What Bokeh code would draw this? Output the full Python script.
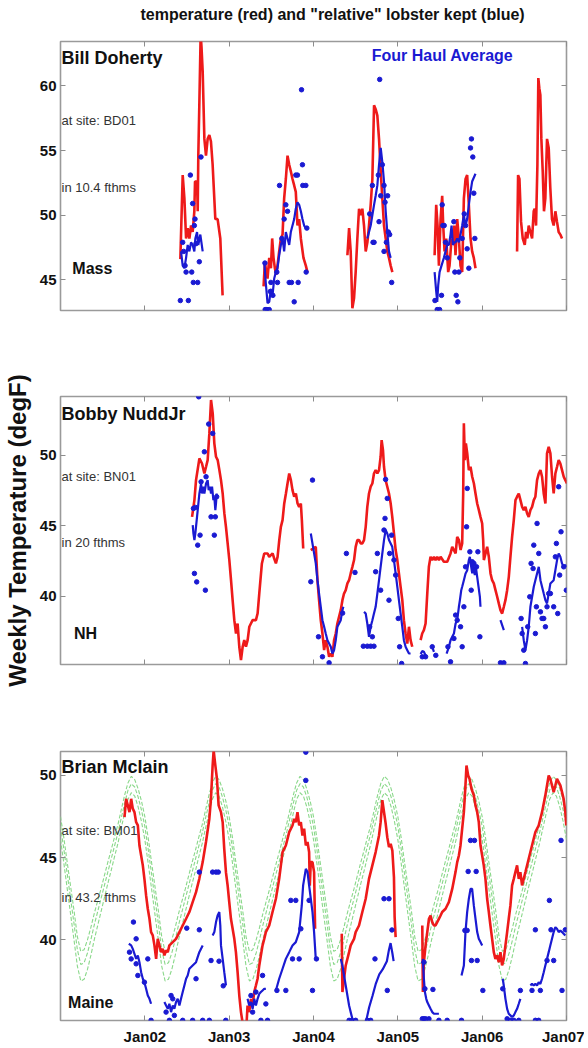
from bokeh.plotting import figure
from bokeh.layouts import column
from bokeh.models import Range1d, LinearAxis, FixedTicker, Label
from bokeh.core.properties import value
from bokeh.embed import file_html
from bokeh.resources import INLINE

NA = float("nan")

TITLE = 'temperature (red) and "relative" lobster kept (blue)'
YLABEL = "Weekly Temperature (degF)"
YEAR_TICKS = [2002, 2003, 2004, 2005, 2006, 2007]
YEAR_LABELS = ["Jan02", "Jan03", "Jan04", "Jan05", "Jan06", "Jan07"]

# ---------------- Panel 1 : Bill Doherty, BD01, Mass ----------------
bd_temp_t = [2002.421, 2002.449, 2002.469, 2002.489, 2002.508, 2002.528, 2002.548, 2002.567, 2002.587, 2002.595,
             2002.619, 2002.627, 2002.634, 2002.646, 2002.662, 2002.672, 2002.686, 2002.706, 2002.725, 2002.745,
             2002.765, 2002.784, 2002.804, 2002.836, 2002.863, 2002.895, 2002.922, NA,
             2003.408, 2003.424, 2003.439, 2003.455, 2003.475, 2003.495, 2003.510, 2003.526, 2003.542, 2003.558,
             2003.573, 2003.593, 2003.613, 2003.633, 2003.652, 2003.672, 2003.692, 2003.712, 2003.731, 2003.751,
             2003.771, 2003.790, 2003.802, 2003.810, 2003.830, 2003.850, 2003.881, 2003.909, 2003.928, NA,
             2004.402, 2004.422, 2004.441, 2004.461, 2004.481, 2004.500, 2004.520, 2004.540, 2004.560, 2004.579,
             2004.599, 2004.619, 2004.639, 2004.658, 2004.678, 2004.698, 2004.718, 2004.737, 2004.757, 2004.777,
             2004.797, 2004.816, 2004.836, 2004.856, 2004.875, 2004.895, 2004.915, 2004.935, NA,
             2005.436, 2005.455, 2005.471, 2005.487, 2005.507, 2005.526, 2005.538, 2005.554, 2005.574, 2005.597,
             2005.613, 2005.637, 2005.653, 2005.668, 2005.684, 2005.704, 2005.724, 2005.743, 2005.763, 2005.783,
             2005.803, 2005.822, 2005.842, 2005.862, 2005.881, 2005.901, 2005.921, NA,
             2006.414, 2006.426, 2006.442, 2006.461, 2006.481, 2006.505, 2006.520, 2006.536, 2006.552, 2006.572,
             2006.592, 2006.611, 2006.623, 2006.639, 2006.655, 2006.666, 2006.678, 2006.690, 2006.702, 2006.718,
             2006.733, 2006.749, 2006.769, 2006.789, 2006.808, 2006.828, 2006.848, 2006.868, 2006.887, 2006.907,
             2006.927, 2006.947]
bd_temp_v = [46.6, 53.1, 51.3, 48.2, 49.0, 48.2, 49.2, 48.7, 50.3, 52.6,
             52.6, 50.3, 54.6, 58.5, 64.0, 63.0, 61.1, 55.9, 54.6, 55.9,
             56.2, 55.7, 53.9, 49.7, 49.7, 48.2, 43.8, NA,
             44.5, 46.4, 45.6, 45.1, 46.7, 45.9, 48.2, 46.7, 45.9, 45.4,
             46.1, 47.2, 48.2, 48.5, 51.3, 52.8, 54.6, 53.9, 53.4, 52.8,
             52.3, 51.8, 50.3, 49.2, 49.7, 48.2, 46.7, 46.1, 45.6, NA,
             46.9, 49.0, 47.2, 42.8, 43.6, 45.6, 48.2, 50.5, 50.0, 50.5,
             49.2, 47.2, 47.9, 49.2, 50.8, 52.8, 58.5, 58.2, 57.7, 55.9,
             53.4, 51.3, 49.2, 48.2, 47.2, 46.7, 46.1, 45.6, NA,
             46.9, 50.8, 49.2, 46.1, 49.7, 51.5, 49.2, 47.2, 48.2, 45.6,
             46.1, 48.2, 47.9, 49.2, 46.9, 49.7, 48.2, 46.1, 45.6, 51.3,
             52.8, 53.1, 50.8, 48.2, 47.2, 46.7, 45.9, NA,
             47.2, 53.1, 52.8, 49.5, 48.2, 47.7, 48.7, 48.2, 49.2, 48.7,
             48.2, 50.3, 50.5, 49.2, 53.9, 60.6, 59.8, 59.3, 55.9, 53.4,
             50.3, 51.3, 55.9, 55.2, 52.1, 49.7, 49.2, 50.3, 49.5, 48.7,
             48.5, 48.2]

bd_avg_t = [2002.429, 2002.449, 2002.469, 2002.489, 2002.508, 2002.528, 2002.548, 2002.567, 2002.587, 2002.599,
            2002.619, 2002.634, 2002.658, 2002.686, NA,
            2003.416, 2003.435, 2003.455, 2003.475, 2003.495, 2003.514, 2003.534, 2003.554, 2003.573, 2003.593,
            2003.613, 2003.633, 2003.652, 2003.672, 2003.692, 2003.712, 2003.731, 2003.751, 2003.771, 2003.790,
            2003.810, 2003.830, 2003.850, 2003.869, 2003.889, 2003.909, NA,
            2004.638, 2004.658, 2004.678, 2004.698, 2004.718, 2004.737, 2004.757, 2004.777, 2004.797, 2004.816,
            2004.836, 2004.856, 2004.875, 2004.895, 2004.915, NA,
            2005.436, 2005.455, 2005.467, 2005.479, 2005.495, 2005.518, 2005.546, 2005.566, 2005.586, 2005.605,
            2005.625, 2005.637, 2005.653, 2005.668, 2005.684, 2005.704, 2005.724, 2005.743, 2005.763, 2005.783,
            2005.803, 2005.822, 2005.842, 2005.862, 2005.881, 2005.921]
bd_avg_v = [47.2, 46.1, 45.9, 46.7, 47.7, 47.2, 47.9, 47.7, 47.2, 48.2,
            48.7, 47.7, 48.5, 47.2, NA,
            46.4, 44.7, 43.2, 43.3, 44.3, 43.8, 45.1, 45.6, 45.9, 46.9,
            47.7, 48.2, 47.2, 48.7, 48.2, 47.7, 48.7, 49.2, 49.7, 50.5,
            51.0, 50.8, 50.3, 49.7, 49.2, 49.0, NA,
            48.2, 48.7, 49.2, 50.0, 50.8, 51.5, 52.3, 53.9, 55.2, 54.1,
            52.6, 50.3, 48.7, 47.2, 46.7, NA,
            45.6, 44.1, 43.3, 44.6, 45.6, 46.1, 46.7, 47.2, 47.7, 47.7,
            48.5, 49.2, 47.7, 47.9, 47.9, 48.2, 47.9, 48.5, 49.2, 50.0,
            49.2, 49.7, 50.8, 51.8, 52.6, 53.2]

bd_haul_t = [2002.421, 2002.516, 2002.449, 2002.461, 2002.477, 2002.489, 2002.540, 2002.556, 2002.567, 2002.575,
             2002.587, 2002.595, 2002.607, 2002.627, 2002.646, 2002.666,
             2003.424, 2003.427, 2003.447, 2003.475, 2003.487, 2003.495, 2003.518, 2003.565, 2003.573, 2003.597,
             2003.625, 2003.652, 2003.672, 2003.692, 2003.712, 2003.739, 2003.771, 2003.790, 2003.810, 2003.818,
             2003.858, 2003.869, 2003.873, 2003.909, 2003.913, 2003.921,
             2004.666, 2004.698, 2004.706, 2004.718, 2004.769, 2004.777, 2004.785, 2004.797, 2004.816, 2004.836,
             2004.836, 2004.848, 2004.864, 2004.879, 2004.887, 2004.903, 2004.927,
             2005.440, 2005.467, 2005.495, 2005.518, 2005.526, 2005.534, 2005.550, 2005.566, 2005.586, 2005.664,
             2005.676, 2005.692, 2005.712, 2005.724, 2005.735, 2005.763, 2005.787, 2005.803, 2005.822, 2005.842,
             2005.862, 2005.873, 2005.889, 2005.901, 2005.913]
bd_haul_v = [43.4, 43.4, 47.9, 47.2, 46.1, 45.6, 53.1, 45.6, 50.9, 44.8,
             49.2, 49.7, 47.8, 44.8, 46.4, 54.5,
             46.3, 42.7, 42.7, 42.7, 44.1, 44.8, 43.8, 45.6, 44.8, 52.3,
             48.2, 49.7, 50.8, 50.3, 44.8, 44.8, 43.3, 53.1, 53.1, 44.8,
             59.7, 53.9, 52.3, 52.3, 45.6, 49.0,
             50.1, 52.3, 47.9, 47.9, 53.1, 49.5, 60.5, 51.5, 53.9, 52.3,
             47.2, 51.0, 47.9, 51.5, 48.7, 48.5, 44.8,
             43.4, 42.7, 42.7, 43.8, 50.8, 49.2, 49.2, 47.9, 46.7, 49.5,
             45.6, 43.8, 43.3, 45.6, 46.7, 48.2, 50.1, 49.2, 47.4, 45.9,
             55.2, 55.9, 54.5, 51.7, 48.2]

# ---------------- Panel 2 : Bobby NuddJr, BN01, NH ----------------
bn_temp_t = [2002.560, 2002.588, 2002.607, 2002.647, 2002.678, 2002.706, 2002.726, 2002.745, 2002.765, 2002.785,
             2002.805, 2002.824, 2002.844, 2002.864, 2002.884, 2002.903, 2002.923, 2002.943, 2002.962, 2002.982,
             2003.002, 2003.022, 2003.041, 2003.061, 2003.081, 2003.100, 2003.120, 2003.140, 2003.160, 2003.179,
             2003.199, 2003.219, 2003.239, 2003.258, 2003.278, 2003.317, 2003.337, 2003.357, 2003.388, 2003.416,
             2003.456, 2003.475, 2003.515, 2003.534, 2003.554, 2003.574, 2003.594, 2003.613, 2003.633, 2003.653,
             2003.673, 2003.692, 2003.712, 2003.732, 2003.751, 2003.771, 2003.791, 2003.811, 2003.830, 2003.850,
             2003.862, 2003.878, NA,
             2003.968, 2004.027, 2004.047, 2004.066, 2004.086, 2004.106, 2004.126, 2004.145, 2004.165, 2004.185,
             2004.205, 2004.224, 2004.244, 2004.264, 2004.283, 2004.303, 2004.323, 2004.343, 2004.362, 2004.382,
             2004.402, 2004.422, 2004.441, 2004.461, 2004.481, 2004.500, 2004.520, 2004.540, 2004.560, 2004.579,
             2004.599, 2004.619, 2004.638, 2004.658, 2004.678, 2004.698, 2004.717, 2004.737, 2004.757, 2004.777,
             2004.796, 2004.808, 2004.824, 2004.836, 2004.855, 2004.875, 2004.895, 2004.915, 2004.934, 2004.954,
             2004.974, 2004.994, 2005.013, 2005.033, 2005.053, 2005.072, 2005.092, 2005.112, 2005.132, 2005.151,
             2005.171, NA,
             2005.270, 2005.289, 2005.309, 2005.329, 2005.349, 2005.368, 2005.388, 2005.408, 2005.428, 2005.447,
             2005.467, 2005.487, 2005.507, 2005.546, 2005.586, 2005.625, 2005.645, 2005.665, 2005.685, 2005.704,
             2005.724, 2005.744, 2005.763, 2005.775, 2005.783, 2005.795, 2005.807, 2005.823, 2005.842, 2005.862,
             2005.882, 2005.902, 2005.921, 2005.941, 2005.961, 2005.980, 2006.000, 2006.012, 2006.020, 2006.040,
             2006.059, 2006.079, 2006.099, 2006.118, 2006.138, 2006.158, 2006.178, 2006.197, 2006.217, 2006.237,
             2006.257, 2006.276, 2006.296, 2006.316, 2006.335, 2006.355, 2006.375, 2006.395, 2006.414, 2006.434,
             2006.454, 2006.474, 2006.493, 2006.513, 2006.533, 2006.552, 2006.572, 2006.592, 2006.612, 2006.631,
             2006.651, 2006.671, 2006.691, 2006.710, 2006.730, 2006.750, 2006.769, 2006.789, 2006.809, 2006.829,
             2006.848, 2006.868, 2006.888, 2006.907, 2006.927, 2006.947, 2006.967, 2006.986, 2007.006]
bn_temp_v = [45.64, 46.83, 48.25, 49.79, 49.43, 48.72, 49.2, 49.67, 51.57, 53.94,
             52.99, 50.86, 49.91, 49.67, 48.96, 48.25, 47.3, 45.88, 44.93, 43.75,
             42.57, 41.14, 39.72, 38.3, 37.35, 38.06, 36.41, 35.46, 36.41, 36.88,
             36.41, 36.88, 37.83, 38.06, 38.3, 38.3, 38.77, 40.19, 42.33, 43.04,
             43.04, 42.8, 43.04, 42.68, 42.33, 42.8, 43.99, 44.93, 45.41, 46.59,
             47.3, 48.01, 48.72, 48.25, 47.54, 47.07, 47.3, 46.59, 46.35, 46.59,
             45.41, 43.39, NA,
             43.28, 43.51, 41.14, 39.72, 38.3, 37.35, 36.17, 36.88, 36.41, 35.7,
             35.93, 35.7, 36.88, 37.35, 38.06, 38.54, 39.01, 39.72, 40.19, 40.43,
             40.91, 41.14, 41.62, 42.09, 42.57, 43.51, 43.99, 43.99, 43.75, 43.75,
             43.99, 44.93, 46.35, 47.3, 47.78, 48.01, 48.72, 48.96, 48.72, 48.96,
             49.91, 51.09, 50.38, 49.2, 48.25, 47.78, 47.3, 46.59, 45.64, 44.46,
             43.28, 42.57, 41.62, 40.67, 39.72, 38.3, 37.35, 36.64, 37.83, 36.88,
             36.41, NA,
             36.88, 37.35, 37.59, 38.06, 40.19, 42.09, 42.8, 42.57, 42.8, 42.57,
             42.8, 42.57, 42.8, 42.45, 42.45, 43.04, 43.51, 43.28, 43.04, 44.22,
             43.99, 43.28, 43.75, 47.3, 52.28, 49.67, 50.86, 50.15, 48.96, 49.2,
             48.49, 48.01, 47.3, 46.59, 46.12, 45.64, 45.17, 43.99, 42.57, 43.04,
             43.51, 42.8, 41.62, 41.14, 40.91, 40.43, 39.96, 39.49, 39.01, 38.77,
             39.25, 39.72, 40.43, 41.38, 42.8, 44.22, 45.41, 46.83, 47.07, 47.3,
             46.83, 46.35, 46.12, 46.35, 45.88, 45.64, 46.12, 46.35, 46.83, 47.07,
             48.25, 48.72, 48.96, 48.49, 47.3, 46.59, 50.15, 50.62, 50.15, 48.49,
             47.3, 48.72, 49.2, 49.67, 49.43, 48.96, 48.49, 48.25, 48.01]

bn_avg_t = [2002.568, 2002.576, 2002.588, 2002.599, 2002.615, 2002.627, 2002.647, 2002.667, 2002.678, 2002.694,
            2002.706, 2002.726, 2002.745, 2002.757, 2002.773, 2002.785, 2002.797, 2002.813, 2002.824, 2002.836,
            2002.844, 2002.852, NA,
            2003.968, 2004.027, 2004.047, 2004.066, 2004.086, 2004.106, 2004.126, 2004.145, 2004.165, 2004.185,
            2004.205, 2004.224, 2004.244, 2004.264, 2004.283, 2004.303, 2004.323, 2004.343, 2004.354, NA,
            2004.599, 2004.619, 2004.638, 2004.658, 2004.678, 2004.698, 2004.717, 2004.737, 2004.757, 2004.777,
            2004.796, 2004.816, 2004.836, 2004.855, 2004.875, 2004.895, 2004.915, 2004.934, 2004.954, 2004.974,
            2004.994, 2005.013, 2005.033, 2005.053, 2005.072, 2005.092, 2005.112, 2005.132, 2005.151, NA,
            2005.270, 2005.290, 2005.309, 2005.329, NA, 2005.408, 2005.428, NA,
            2005.578, 2005.606, 2005.625, 2005.645, 2005.665, 2005.685, 2005.704, 2005.724, 2005.736, 2005.752,
            2005.763, 2005.783, 2005.803, 2005.823, 2005.842, 2005.854, 2005.870, 2005.882, 2005.894, 2005.902,
            2005.913, 2005.925, 2005.941, 2005.957, 2005.973, 2005.980, NA,
            2006.217, 2006.257, NA,
            2006.474, 2006.493, 2006.513, 2006.533, 2006.552, 2006.572, 2006.592, 2006.612, 2006.631, 2006.651,
            2006.671, 2006.691, 2006.710, 2006.730, 2006.750, 2006.769, 2006.789, 2006.809, 2006.848, 2006.868,
            2006.888, 2006.907, 2006.927, 2006.947, 2006.967, 2006.986, 2007.006]
bn_avg_v = [45.05, 44.46, 43.99, 44.46, 45.41, 46.12, 47.3, 48.01, 47.3, 47.78,
            47.3, 48.01, 48.25, 47.54, 47.78, 47.3, 47.78, 46.83, 47.07, 46.12,
            46.59, 47.3, NA,
            44.46, 42.33, 41.14, 40.19, 39.25, 38.3, 37.83, 37.35, 36.88, 36.64,
            36.41, 35.93, 36.17, 36.88, 37.83, 38.06, 38.3, 39.01, 39.25, NA,
            38.89, 38.77, 38.06, 37.12, 37.83, 38.3, 38.77, 39.25, 40.19, 41.14,
            42.09, 43.04, 43.99, 44.7, 44.46, 43.99, 43.75, 43.51, 42.57, 41.62,
            40.67, 39.72, 38.77, 37.83, 36.88, 36.41, 36.17, 35.93, 35.93, NA,
            35.9, 36.1, 36.05, 35.8, NA, 36.4, 36.05, NA,
            35.93, 36.41, 36.88, 37.12, 37.35, 38.06, 38.3, 39.25, 39.72, 40.43,
            40.67, 41.14, 41.62, 41.85, 42.57, 42.8, 42.09, 41.62, 42.33, 41.85,
            41.5, 42.09, 41.38, 40.67, 39.96, 39.25, NA,
            38.3, 37.59, NA,
            37.83, 36.88, 36.17, 36.88, 37.83, 39.25, 39.96, 40.67, 41.14, 41.62,
            42.09, 41.14, 40.67, 40.19, 39.72, 39.49, 40.19, 40.91, 41.14, 41.85,
            42.57, 43.04, 42.8, 42.33, 42.09, 42.21, 42.09]

bn_haul_t = [2002.639, 2002.576, 2002.599, 2002.588, 2002.615, 2002.627, 2002.655, 2002.718, 2002.706, 2002.757,
             2002.805, 2002.785, 2002.824, 2002.852, 2002.836, 2002.667, 2002.726,
             2003.988, 2003.968, 2004.059, 2004.106, 2004.185, 2004.345, 2004.390, 2004.492,
             2004.591, 2004.638, 2004.678, 2004.717, 2004.698, 2004.666, 2004.737, 2004.757, 2004.796, 2004.836,
             2004.848, 2004.855, 2004.875, 2004.895, 2004.903, 2004.926, 2004.954, 2004.974, 2005.005, 2005.021,
             2005.045,
             2005.290, 2005.329, 2005.408, 2005.450,
             2005.594, 2005.625, 2005.665, 2005.685, 2005.704, 2005.744, 2005.763, 2005.783, 2005.803, 2005.815,
             2005.823, 2005.854, 2005.870, 2005.882, 2005.902, 2005.933, 2005.949, 2005.973,
             2006.217, 2006.257,
             2006.462, 2006.474, 2006.493, 2006.513, 2006.540, 2006.564, 2006.580, 2006.604, 2006.612, 2006.631,
             2006.643, 2006.651, 2006.671, 2006.691, 2006.710, 2006.730, 2006.750, 2006.769, 2006.789, 2006.809,
             2006.848, 2006.868, 2006.880, 2006.896, 2006.907, 2006.919, 2006.935, 2006.967, 2006.998]
bn_haul_v = [54.17, 46.24, 46.31, 41.62, 41.02, 43.63, 44.34, 40.43, 50.26, 52.23,
             51.57, 45.64, 44.34, 47.07, 45.64, 48.13, 48.49,
             48.25, 41.03, 37.12, 35.7, 35.27, 38.8, 43.04, 41.69,
             36.45, 36.45, 36.45, 36.45, 37.12, 37.83, 41.74, 43.04, 40.43, 44.7,
             45.53, 48.3, 46.95, 39.72, 43.04, 44.34, 42.57, 41.5, 38.42, 36.41,
             35.22,
             35.7, 35.7, 36.41, 35.8,
             36.41, 35.34, 37.0, 38.66, 38.3, 37.83, 36.41, 39.25, 42.09, 44.93,
             47.66, 43.16, 40.43, 42.45, 42.33, 42.09, 43.16, 37.12,
             35.27, 35.27,
             38.42, 37.35, 36.17, 35.22, 37.83, 39.96, 42.33, 41.97, 43.63, 37.35,
             39.25, 45.17, 43.04, 38.89, 38.42, 38.42, 37.83, 39.25, 40.19, 40.19,
             39.25, 42.8, 43.75, 38.77, 47.78, 41.5, 44.58, 42.09, 40.43]

# ---------------- Panel 3 : Brian Mclain, BM01, Maine ----------------
bm_temp_t = [2001.759, 2001.778, 2001.798, 2001.818, 2001.838, 2001.857, 2001.877, 2001.897, 2001.917, 2001.936,
             2001.956, 2001.976, 2001.995, 2002.015, 2002.035, 2002.055, 2002.074, 2002.094, 2002.114, 2002.134,
             2002.153, 2002.173, 2002.193, 2002.212, 2002.232, 2002.252, 2002.272, 2002.291, 2002.331, 2002.370,
             2002.410, 2002.449, 2002.489, 2002.528, 2002.567, 2002.607, 2002.646, 2002.686, 2002.725, 2002.765,
             2002.784, 2002.804, 2002.816, 2002.836, 2002.855, 2002.875, 2002.903, 2002.923, 2002.942, 2002.962,
             2002.982, 2003.001, 2003.021, 2003.041, 2003.061, 2003.080, 2003.100, 2003.120, 2003.140, 2003.170,
             2003.207, 2003.218, 2003.238, 2003.258, 2003.278, 2003.297, 2003.317, 2003.337, 2003.357, 2003.376,
             2003.396, 2003.416, 2003.435, 2003.475, 2003.514, 2003.554, 2003.593, 2003.633, 2003.672, 2003.712,
             2003.751, 2003.771, 2003.790, 2003.810, 2003.830, 2003.850, 2003.869, 2003.889, 2003.909, 2003.929,
             2003.948, 2003.956, 2003.968, 2003.988, 2004.007, 2004.019, NA,
             2004.335, 2004.343, 2004.362, 2004.382, 2004.402, 2004.422, 2004.441, 2004.461, 2004.481, 2004.500,
             2004.540, 2004.579, 2004.619, 2004.658, 2004.698, 2004.737, 2004.777, 2004.796, 2004.816, 2004.856,
             2004.875, 2004.895, 2004.915, 2004.935, 2004.954, 2004.962, 2004.974, NA,
             2005.290, 2005.297, 2005.309, 2005.329, 2005.349, 2005.369, 2005.388, 2005.408, 2005.428, 2005.447,
             2005.467, 2005.487, 2005.507, 2005.526, 2005.566, 2005.605, 2005.645, 2005.684, 2005.704, 2005.724,
             2005.743, 2005.763, 2005.783, 2005.802, 2005.814, 2005.834, 2005.850, 2005.873, 2005.901, 2005.921,
             2005.941, 2005.960, 2005.980, 2006.000, 2006.019, 2006.039, 2006.059, 2006.079, 2006.098, 2006.118,
             2006.138, 2006.157, 2006.177, 2006.197, 2006.217, 2006.236, 2006.256, 2006.276, 2006.296, 2006.315,
             2006.335, 2006.355, 2006.375, 2006.394, 2006.414, 2006.434, 2006.453, 2006.473, 2006.493, 2006.513,
             2006.552, 2006.591, 2006.631, 2006.670, 2006.710, 2006.749, 2006.789, 2006.808, 2006.828, 2006.848,
             2006.868, 2006.887, 2006.907, 2006.927, 2006.947, 2006.966, 2006.986, 2006.998]
bm_temp_v = [47.47, 48.58, 48.18, 47.77, 48.58, 47.98, 47.77, 47.16, 46.96, 45.74,
             45.13, 44.53, 43.71, 42.7, 41.89, 41.28, 40.47, 40.27, 39.66, 38.84,
             40.06, 39.66, 39.25, 39.45, 39.05, 39.35, 39.25, 39.66, 39.86, 40.06,
             40.47, 40.87, 41.28, 41.69, 42.29, 42.9, 43.71, 44.73, 45.95, 47.37,
             48.58, 50.61, 51.53, 50.61, 49.8, 48.18, 47.77, 47.16, 45.5, 44.1,
             43.3, 42.29, 41.28, 40.67, 40.06, 39.25, 38.03, 36.61, 35.6, 34.6,
             34.99, 36.0, 35.6, 36.41, 36.0, 36.82, 37.22, 37.63, 38.44, 39.05,
             39.66, 40.06, 40.47, 40.87, 41.69, 42.5, 43.71, 45.34, 45.74, 46.55,
             46.96, 47.37, 47.16, 47.77, 46.96, 47.16, 46.35, 46.76, 45.74, 45.95,
             45.34, 43.3, 44.73, 44.73, 44.12, 40.67, NA,
             40.37, 36.82, 37.63, 38.44, 38.84, 39.25, 39.66, 39.86, 40.06, 40.47,
             40.87, 41.69, 42.5, 43.71, 44.53, 45.34, 46.35, 47.16, 48.5, 47.06,
             46.24, 45.64, 45.84, 45.43, 43.81, 41.38, 40.16, NA,
             40.87, 36.82, 38.64, 39.66, 40.47, 41.28, 41.48, 41.08, 40.87, 40.87,
             41.08, 41.28, 41.48, 41.69, 41.89, 42.29, 43.1, 44.12, 44.73, 45.13,
             45.74, 46.76, 47.77, 49.4, 50.61, 50.0, 49.8, 49.19, 48.79, 48.18,
             47.77, 47.16, 45.74, 45.13, 44.53, 43.71, 42.5, 41.69, 40.87, 40.06,
             39.25, 38.84, 39.05, 38.64, 39.25, 38.44, 38.84, 39.66, 40.47, 41.28,
             42.09, 43.31, 43.71, 44.12, 44.53, 43.71, 44.12, 43.31, 43.71, 44.12,
             44.93, 45.74, 46.55, 46.96, 47.77, 48.79, 50.0, 49.8, 49.4, 48.99,
             49.4, 49.8, 49.6, 49.4, 48.99, 48.58, 47.77, 46.96]

bm_avg_t = [2001.810, 2001.838, 2001.857, 2001.877, 2001.897, 2001.917, 2001.936, 2001.956, 2001.976, 2001.995,
            2002.015, 2002.035, 2002.055, 2002.074, NA,
            2002.232, 2002.252, 2002.272, 2002.291, 2002.311, 2002.331, 2002.350, 2002.370, 2002.390, 2002.410,
            2002.429, 2002.449, 2002.469, 2002.489, 2002.508, 2002.528, 2002.567, 2002.607, 2002.646, 2002.686, NA,
            2002.804, 2002.824, 2002.844, 2002.863, 2002.883, 2002.895, 2002.903, 2002.923, 2002.942, 2002.962, NA,
            2003.218, 2003.238, 2003.258, 2003.278, 2003.297, 2003.317, 2003.337, 2003.357, 2003.376, 2003.396,
            2003.416, 2003.435, NA,
            2003.554, 2003.593, 2003.633, 2003.672, 2003.712, 2003.751, 2003.790, 2003.830, 2003.861, 2003.877,
            2003.909, 2003.929, 2003.948, 2003.968, 2003.988, 2004.007, 2004.027, NA,
            2004.323, 2004.343, 2004.362, 2004.382, 2004.402, 2004.422, 2004.441, 2004.461, 2004.481, NA,
            2004.610, 2004.626, 2004.660, 2004.700, 2004.737, 2004.780, 2004.820, 2004.870, 2004.895, 2004.914,
            2004.935, 2004.950, NA,
            2005.297, 2005.309, 2005.321, 2005.337, 2005.349, 2005.369, 2005.388, 2005.408, 2005.428, 2005.447,
            2005.487, NA,
            2005.755, 2005.783, 2005.802, 2005.822, 2005.842, 2005.862, 2005.881, 2005.901, 2005.921, 2005.941,
            2005.960, 2005.980, 2006.000, NA,
            2006.244, 2006.256, 2006.276, 2006.296, 2006.315, 2006.335, 2006.355, 2006.375, 2006.394, 2006.414,
            2006.434, 2006.453, NA,
            2006.572, 2006.591, 2006.611, 2006.631, 2006.651, 2006.670, 2006.690, 2006.710, 2006.730, 2006.749,
            2006.769, 2006.789, 2006.808, 2006.828, 2006.848, 2006.868, 2006.887, 2006.907, 2006.927, 2006.947,
            2006.966, 2006.986]
bm_avg_v = [39.76, 39.66, 39.45, 39.15, 38.84, 39.05, 38.64, 38.03, 37.63, 37.42,
            37.02, 36.61, 36.41, 36.11, NA,
            36.21, 36.0, 35.8, 36.11, 35.6, 36.0, 35.8, 36.21, 36.41, 36.0,
            36.41, 36.82, 37.22, 37.63, 37.83, 38.24, 38.44, 38.64, 39.25, 39.66, NA,
            40.26, 40.47, 41.08, 41.48, 41.69, 40.87, 39.66, 38.84, 38.03, 37.22, NA,
            36.41, 36.0, 36.21, 35.8, 36.41, 36.0, 36.41, 36.71, 36.82, 36.92,
            37.02, 37.02, NA,
            36.92, 37.63, 38.24, 38.84, 39.25, 39.66, 39.86, 40.47, 42.09, 43.31,
            44.32, 44.12, 43.31, 42.5, 41.69, 40.47, 38.84, NA,
            38.84, 38.44, 37.83, 37.22, 36.61, 36.0, 35.6, 35.19, 34.79, NA,
            34.8, 35.1, 35.9, 36.6, 37.3, 37.9, 38.2, 38.7, 39.4, 39.8,
            39.2, 38.7, NA,
            38.84, 37.63, 36.82, 36.41, 36.21, 36.0, 35.8, 35.6, 35.5, 35.5,
            35.5, NA,
            37.83, 38.44, 40.47, 41.69, 42.5, 43.1, 43.1, 42.09, 41.28, 40.47,
            40.06, 39.86, 39.66, NA,
            37.63, 37.22, 36.41, 35.8, 35.5, 35.4, 35.3, 35.4, 35.6, 35.8,
            36.11, 36.41, NA,
            37.22, 37.32, 37.22, 37.32, 37.22, 37.42, 37.32, 37.63, 38.03, 38.44,
            38.84, 39.25, 39.66, 40.06, 40.47, 40.77, 40.67, 40.47, 40.57, 40.47,
            40.37, 40.26]

bm_haul_t = [2001.865, 2001.897, 2002.035, 2001.818, 2001.838, 2001.897, 2001.917, 2001.995, 2002.074, 2002.291,
             2002.252, 2002.311, 2002.331, 2002.350, 2002.497, 2002.646, 2002.449, 2002.567, 2002.686, 2002.765,
             2002.607, 2002.646, 2002.804, 2002.844, 2002.871, 2002.785, 2002.880, 2002.930, 2002.960,
             2003.258, 2003.278, 2003.317, 2003.396, 2003.376, 2003.455, 2003.435, 2003.566, 2003.672, 2003.751,
             2003.830, 2003.850, 2003.731, 2003.790, 2003.948, 2003.909, 2003.909, 2003.988, 2004.035,
             2004.422, 2004.453, 2004.500, 2004.639, 2004.678, 2004.729, 2004.836, 2004.895, 2004.875, 2004.930,
             2005.290, 2005.309, 2005.329, 2005.369, 2005.487, 2005.585, 2005.321, 2005.416, 2005.309, 2005.862,
             2005.909, 2005.834, 2005.929, 2005.795, 2005.822, 2005.873, 2005.941, 2006.008, 2005.755, 2006.244,
             2006.296, 2006.335, 2006.375, 2006.434, 2006.453, 2006.591, 2006.690, 2006.631, 2006.670, 2006.797,
             2006.631, 2006.816, 2006.986, 2006.769, 2006.848, 2006.947, 2006.935]
bm_haul_v = [41.08, 40.06, 38.84, 39.25, 38.84, 38.54, 37.83, 37.42, 35.1, 35.1,
             35.6, 36.61, 36.41, 35.4, 40.71, 40.61, 35.1, 35.1, 35.1, 35.1,
             37.63, 44.12, 44.12, 44.12, 44.12, 38.74, 38.7, 37.2, 35.1,
             36.61, 35.6, 36.82, 37.83, 35.1, 35.1, 36.1, 36.92, 36.92, 38.84,
             38.84, 40.67, 42.4, 42.4, 42.4, 51.42, 49.7, 36.92, 38.84,
             35.1, 35.1, 35.1, 35.1, 35.1, 38.84, 42.5, 42.5, 36.92, 40.6,
             35.19, 35.19, 35.19, 35.19, 35.1, 35.1, 37.02, 36.98, 38.64, 46.05,
             46.05, 44.16, 44.16, 40.57, 40.57, 38.74, 38.74, 36.92, 35.1, 37.02,
             35.19, 35.1, 35.1, 35.1, 36.92, 36.92, 36.92, 35.1, 35.1, 42.4,
             40.61, 40.61, 40.61, 38.74, 38.74, 36.92, 46.05]

# seasonal climatology (green dashed): mean and upper/lower band by fraction of year
clim_phase = [0.00, 0.04, 0.08, 0.12, 0.16, 0.20, 0.24, 0.28, 0.32, 0.36, 0.40, 0.44, 0.48,
              0.52, 0.56, 0.60, 0.64, 0.68, 0.72, 0.76, 0.80, 0.84, 0.88, 0.92, 0.96, 1.00]
clim_mid = [46.9, 45.5, 44.0, 42.5, 41.0, 39.4, 38.5, 38.6, 39.2, 40.0, 40.9, 41.7, 42.5,
            43.3, 44.1, 44.9, 45.7, 46.5, 47.4, 48.3, 49.1, 49.5, 49.3, 48.7, 47.9, 46.9]
clim_up = [47.5, 46.2, 44.7, 43.25, 41.8, 40.2, 39.3, 39.4, 40.0, 40.75, 41.6, 42.35, 43.1,
           43.9, 44.7, 45.45, 46.25, 47.0, 47.9, 48.8, 49.55, 49.95, 49.75, 49.2, 48.45, 47.5]
clim_lo = [46.1, 44.65, 43.1, 41.55, 40.0, 38.4, 37.5, 37.6, 38.2, 39.05, 40.0, 40.85, 41.7,
           42.55, 43.4, 44.2, 45.05, 45.85, 46.8, 47.7, 48.55, 48.95, 48.75, 48.1, 47.2, 46.1]
clim_years = [2001, 2002, 2003, 2004, 2005, 2006]

RED = "#ee1a1a"
BLUE = "#1a1ad2"
GREEN = "#8ad88a"
FONT = "Liberation Sans"
TICKC = "#8c8c8c"
FIG_W = 584
LEFT = 59
RIGHT = 18
TITLE_H = 28


def tick_axis(ticks, overrides, standoff=3, blank=False):
    ax = LinearAxis(ticker=FixedTicker(ticks=ticks), major_label_overrides=overrides,
                    axis_line_color=None, major_tick_line_color=TICKC, major_tick_line_width=1,
                    major_tick_in=5, major_tick_out=0, minor_tick_line_color=None,
                    major_label_standoff=0 if blank else standoff, major_label_text_font=FONT,
                    major_label_text_font_style="bold",
                    major_label_text_font_size="1px" if blank else "15px",
                    major_label_text_color="#111111")
    return ax


def make_panel(yrange, yticks, height, top, bottom, xlabels, ylabel=None):
    p = figure(width=FIG_W, height=height, x_range=Range1d(2001, 2007), y_range=Range1d(*yrange),
               output_backend="svg", toolbar_location=None, x_axis_type=None, y_axis_type=None,
               min_border_left=LEFT, min_border_right=RIGHT, min_border_top=top, min_border_bottom=bottom)
    p.outline_line_color = "#9a9a9a"
    p.outline_line_width = 1.6
    p.background_fill_color = "white"
    p.border_fill_color = "white"
    blank_x = {t: "" for t in YEAR_TICKS}
    blank_y = {t: "" for t in yticks}
    if xlabels:
        p.add_layout(tick_axis(YEAR_TICKS, dict(zip(YEAR_TICKS, YEAR_LABELS)), standoff=7), "below")
    else:
        p.add_layout(tick_axis(YEAR_TICKS, blank_x, blank=True), "below")
    p.add_layout(tick_axis(YEAR_TICKS, blank_x, blank=True), "above")
    left = tick_axis(yticks, {}, standoff=4)
    if ylabel:
        left.axis_label = ylabel
        left.axis_label_text_font = FONT
        left.axis_label_text_font_size = "24px"
        left.axis_label_text_font_style = "bold"
        left.axis_label_text_color = "#111111"
        left.axis_label_standoff = 6
    p.add_layout(left, "left")
    p.add_layout(tick_axis(yticks, blank_y, blank=True), "right")
    return p


def draw(p, temp_t, temp_v, avg_t, avg_v, haul_t, haul_v):
    p.line(temp_t, temp_v, line_color=RED, line_width=2.6)
    p.line(avg_t, avg_v, line_color=BLUE, line_width=2.2)
    p.scatter(haul_t, haul_v, marker="circle", size=4.5, fill_color=BLUE, line_color=BLUE)


def texts(p, items):
    for (x, y, txt, size, bold, color) in items:
        p.add_layout(Label(x=x, y=y, text=txt, text_font=FONT, text_font_size=size,
                           text_font_style="bold" if bold else "normal", text_color=color,
                           text_baseline="middle", text_align="left"))


# Title strip (a frame-only figure in pixel units so the heading sits above the first panel)
pt = figure(width=FIG_W, height=TITLE_H, x_range=Range1d(0, FIG_W), y_range=Range1d(0, TITLE_H),
            output_backend="svg", toolbar_location=None, x_axis_type=None, y_axis_type=None,
            min_border=0, min_border_left=0, min_border_right=0, min_border_top=0, min_border_bottom=0)
pt.outline_line_color = None
pt.grid.visible = False
pt.text(x=[314], y=[TITLE_H - 14], text=[TITLE], text_font=value(FONT), text_font_size="16px",
        text_font_style="bold", text_color="#111111", text_align="center", text_baseline="middle")

# Panel 1
p1 = make_panel((42.63, 63.43), [45, 50, 55, 60], 350 - TITLE_H, 41 - TITLE_H, 40, False)
draw(p1, bd_temp_t, bd_temp_v, bd_avg_t, bd_avg_v, bd_haul_t, bd_haul_v)
texts(p1, [(2001.012, 62.19, "Bill Doherty", "18px", True, "#111111"),
           (2001.012, 57.32, "at site: BD01", "13px", False, "#333333"),
           (2001.012, 52.14, "in 10.4 fthms", "13px", False, "#333333"),
           (2001.14, 45.87, "Mass", "16px", True, "#111111"),
           (2004.69, 62.35, "Four Haul Average", "16px", True, BLUE)])

# Panel 2
p2 = make_panel((35.15, 54.19), [40, 45, 50], 354, 46, 40, False, ylabel=YLABEL)
draw(p2, bn_temp_t, bn_temp_v, bn_avg_t, bn_avg_v, bn_haul_t, bn_haul_v)
texts(p2, [(2001.012, 52.98, "Bobby NuddJr", "18px", True, "#111111"),
           (2001.012, 48.51, "at site: BN01", "13px", False, "#333333"),
           (2001.012, 43.82, "in 20 fthms", "13px", False, "#333333"),
           (2001.16, 37.35, "NH", "16px", True, "#111111")])

# Panel 3
p3 = make_panel((35.09, 51.46), [40, 45, 50], 344, 47, 28, True)
for band in (clim_up, clim_mid, clim_lo):
    xs, ys = [], []
    for yr in clim_years:
        for ph, val in zip(clim_phase[:-1], band[:-1]):
            xs.append(yr + ph)
            ys.append(val)
    xs.append(clim_years[-1] + clim_phase[-1])
    ys.append(band[-1])
    p3.line(xs, ys, line_color=GREEN, line_width=1.1, line_dash="4 2")
draw(p3, bm_temp_t, bm_temp_v, bm_avg_t, bm_avg_v, bm_haul_t, bm_haul_v)
texts(p3, [(2001.012, 50.49, "Brian Mclain", "18px", True, "#111111"),
           (2001.012, 46.65, "at site: BM01", "13px", False, "#333333"),
           (2001.012, 42.58, "in 43.2 fthms", "13px", False, "#333333"),
           (2001.09, 36.18, "Maine", "16px", True, "#111111")])

layout = column(pt, p1, p2, p3, spacing=0)
open("out.html", "w").write(file_html(layout, INLINE))
